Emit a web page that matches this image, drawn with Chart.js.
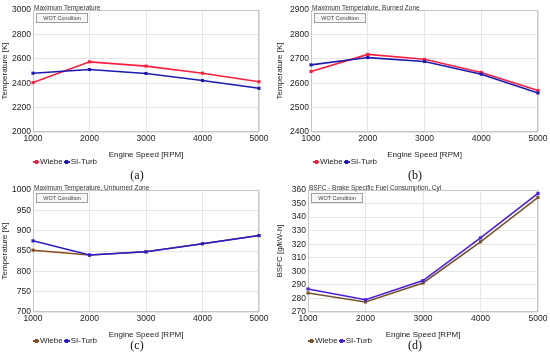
<!DOCTYPE html>
<html>
<head>
<meta charset="utf-8">
<script src="https://cdn.jsdelivr.net/npm/chart.js@4/dist/chart.umd.min.js"></script>
<style>
  body { margin: 0; background: #fff; width: 550px; height: 364px; position: relative; overflow: hidden; font-family: "Liberation Sans", Arial, sans-serif; }
  .cv { position: absolute; width: 275px; height: 160px; }
  .legend { position: absolute; font-size: 8px; color: #222; white-space: nowrap; line-height: 10px; }
  .mk { display: inline-block; position: relative; width: 6px; height: 2px; vertical-align: middle; margin-right: 1px; margin-left: 1px; }
  .mk i { position: absolute; left: 1.5px; top: -1px; width: 3px; height: 4px; background: inherit; }
  .cap { position: absolute; width: 40px; text-align: center; font-family: "Liberation Serif", "DejaVu Serif", serif; font-size: 12px; color: #111; }
</style>
</head>
<body>
<canvas id="chartA" class="cv" width="275" height="160" style="left:0;top:0"></canvas>
<canvas id="chartB" class="cv" width="275" height="160" style="left:275px;top:0"></canvas>
<canvas id="chartC" class="cv" width="275" height="160" style="left:0;top:180px"></canvas>
<canvas id="chartD" class="cv" width="275" height="160" style="left:275px;top:180px"></canvas>

<div class="legend" style="left:32px;top:157px"><span class="mk" style="background:#ff1f3d"><i></i></span>Wiebe<span class="mk" style="background:#1b1bb0"><i></i></span>SI-Turb</div>
<div class="legend" style="left:312px;top:157px"><span class="mk" style="background:#ff1f3d"><i></i></span>Wiebe<span class="mk" style="background:#1b1bb0"><i></i></span>SI-Turb</div>
<div class="legend" style="left:32px;top:336px"><span class="mk" style="background:#8a4a1c"><i></i></span>Wiebe<span class="mk" style="background:#2b1ccc"><i></i></span>SI-Turb</div>
<div class="legend" style="left:307px;top:336px"><span class="mk" style="background:#77532e"><i></i></span>Wiebe<span class="mk" style="background:#4a1ee0"><i></i></span>SI-Turb</div>

<div class="cap" style="left:117px;top:168px">(a)</div>
<div class="cap" style="left:395px;top:168px">(b)</div>
<div class="cap" style="left:117px;top:338px">(c)</div>
<div class="cap" style="left:395px;top:338px">(d)</div>

<script>
// engine speed categories
var speeds = ['1000', '2000', '3000', '4000', '5000'];

// (a) maximum temperature [K]
var maxTempWiebe = [2405, 2575, 2540, 2482, 2412];
var maxTempSiTurb = [2482, 2512, 2480, 2422, 2358];

// (b) maximum temperature, burned zone [K]
var burnedWiebe = [2648, 2718, 2698, 2644, 2570];
var burnedSiTurb = [2675, 2705, 2689, 2637, 2560];

// (c) maximum temperature, unburned zone [K]
var unburnedWiebe = [852, 840, 848, 868, 888];
var unburnedSiTurb = [875, 840, 848, 868, 888];

// (d) BSFC [g/kW-h]
var bsfcWiebe = [284, 277.4, 291.4, 321.8, 354.6];
var bsfcSiTurb = [287, 279, 293.2, 324.7, 357.5];

const decor = {
  id: 'decor',
  beforeDatasetsDraw(chart, args, opts) {
    const ctx = chart.ctx;
    const a = chart.chartArea;
    ctx.save();
    ctx.strokeStyle = '#c6c6c6';
    ctx.lineWidth = 1;
    ctx.strokeRect(a.left + 0.5, a.top + 0.5, a.right - a.left - 1, a.bottom - a.top - 1);
    // little title sitting on the frame
    ctx.font = '6.5px "Liberation Sans", Arial, sans-serif';
    ctx.fillStyle = '#333';
    ctx.textBaseline = 'bottom';
    ctx.textAlign = 'left';
    ctx.fillText(opts.title, a.left + 1, a.top + 1.5);
    // WOT Condition box
    ctx.fillStyle = '#f7f7f7';
    ctx.fillRect(a.left + 3.5, a.top + 3.5, 51, 9);
    ctx.strokeStyle = '#a0a0a0';
    ctx.strokeRect(a.left + 3.5, a.top + 3.5, 51, 9);
    ctx.fillStyle = '#444';
    ctx.font = '5.5px "Liberation Sans", Arial, sans-serif';
    ctx.textBaseline = 'middle';
    ctx.textAlign = 'center';
    ctx.fillText('WOT Condition', a.left + 29, a.top + 8.3);
    ctx.restore();
  }
};

function drawChart(id, title, yTitle, wiebe, siTurb, colors, yMin, yMax, yStep, yWidth, padRight) {
  new Chart(document.getElementById(id), {
    type: 'line',
    data: {
      labels: speeds,
      datasets: [{
        label: 'Wiebe',
        data: wiebe,
        borderColor: colors[0],
        backgroundColor: colors[0],
        order: 1
      }, {
        label: 'SI-Turb',
        data: siTurb,
        borderColor: colors[1],
        backgroundColor: colors[1],
        order: 0
      }]
    },
    options: {
      responsive: false,
      animation: false,
      devicePixelRatio: 1,
      elements: {
        line: { borderWidth: 1.6, tension: 0, fill: false },
        point: { pointStyle: 'rect', radius: 2.2, borderWidth: 0 }
      },
      layout: { padding: { top: 10, right: padRight, left: 0, bottom: 0 } },
      plugins: {
        legend: { display: false },
        tooltip: { enabled: false },
        decor: { title: title }
      },
      scales: {
        x: {
          grid: { color: '#e6e6e6', drawTicks: false },
          border: { display: false },
          ticks: { color: '#222', padding: 2, maxRotation: 0, font: { family: '"Liberation Sans", Arial', size: 8.5 } },
          title: { display: true, text: 'Engine Speed [RPM]', color: '#222', padding: { top: 3, bottom: 0 }, font: { family: '"Liberation Sans", Arial', size: 8 } },
          afterFit: function (s) { s.height = 28; }
        },
        y: {
          min: yMin,
          max: yMax,
          grid: { color: '#e6e6e6', drawTicks: false },
          border: { display: false },
          ticks: {
            stepSize: yStep, autoSkip: false, color: '#222', padding: 2,
            font: { family: '"Liberation Sans", Arial', size: 8.5 },
            callback: function (v) { return String(v); }
          },
          title: { display: true, text: yTitle, color: '#222', padding: 0, font: { family: '"Liberation Sans", Arial', size: 8 } },
          afterFit: function (s) { s.width = yWidth; }
        }
      }
    },
    plugins: [decor]
  });
}

drawChart('chartA', 'Maximum Temperature', 'Temperature [K]', maxTempWiebe, maxTempSiTurb,
  ['#ff1f3d', '#1b1bb0'], 2000, 3000, 200, 33, 16);
drawChart('chartB', 'Maximum Temperature, Burned Zone', 'Temperature [K]', burnedWiebe, burnedSiTurb,
  ['#ff1f3d', '#1b1bb0'], 2400, 2900, 100, 36, 12);
drawChart('chartC', 'Maximum Temperature, Unburned Zone', 'Temperature [K]', unburnedWiebe, unburnedSiTurb,
  ['#8a4a1c', '#2b1ccc'], 700, 1000, 50, 33, 16);
drawChart('chartD', 'BSFC - Brake Specific Fuel Consumption, Cyl', 'BSFC [g/kW-h]', bsfcWiebe, bsfcSiTurb,
  ['#77532e', '#4a1ee0'], 270, 360, 10, 33, 12);
</script>
</body>
</html>
